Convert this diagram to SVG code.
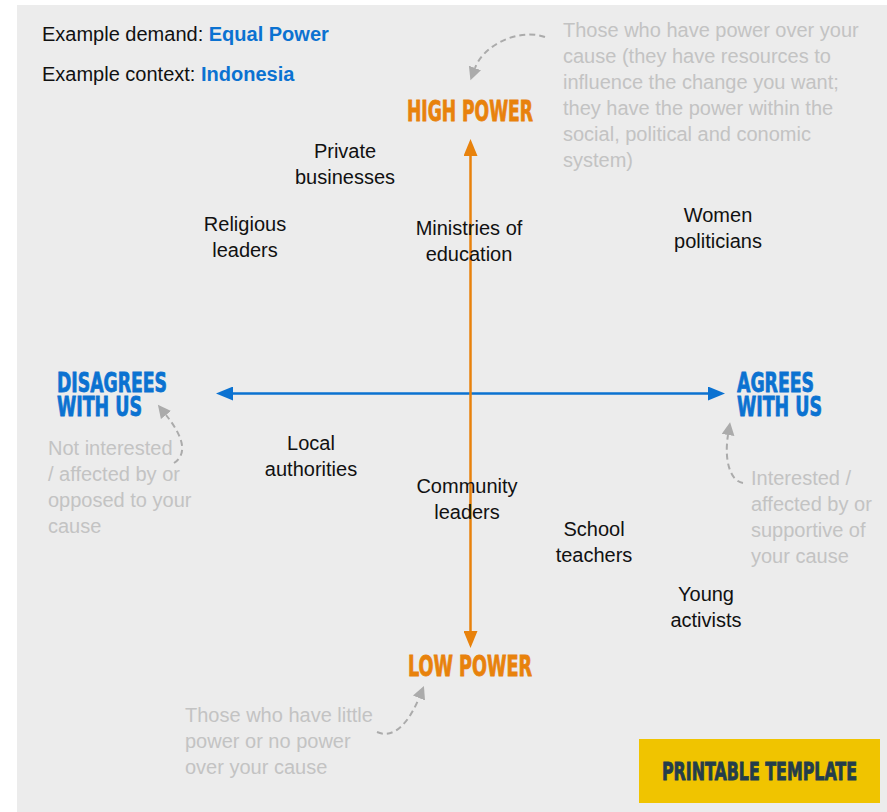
<svg xmlns="http://www.w3.org/2000/svg" width="887" height="812" viewBox="0 0 887 812">
<defs>
<style>
.t{font-family:"Liberation Sans",Arial,sans-serif;font-size:20px;fill:#111}
.c{text-anchor:middle}
.b{font-weight:bold;fill:#0b72d1}
.n{font-family:"Liberation Sans",Arial,sans-serif;font-size:20px;fill:#c3c3c3}
.h{font-family:"DejaVu Sans Condensed","DejaVu Sans",sans-serif;font-weight:bold;stroke-width:0.8}
.blue{fill:#0b72d1;stroke:#0b72d1}
.orange{fill:#e8820c;stroke:#e8820c}
.dark{fill:#243d4b;stroke:#243d4b}
.dash{fill:none;stroke:#ababab;stroke-width:2;stroke-dasharray:6 4}
</style>
<marker id="ao" markerUnits="userSpaceOnUse" markerWidth="18" markerHeight="14" refX="0" refY="7" orient="auto-start-reverse"><path d="M0,0 L17,7 L0,14 Z" fill="#e8820c"/></marker>
<marker id="ab" markerUnits="userSpaceOnUse" markerWidth="18" markerHeight="14" refX="0" refY="7" orient="auto-start-reverse"><path d="M0,0 L17,7 L0,14 Z" fill="#0b72d1"/></marker>
<marker id="ag" markerUnits="userSpaceOnUse" markerWidth="14" markerHeight="14" refX="0" refY="6.5" orient="auto"><path d="M0,0 L13,6.5 L0,13 Z" fill="#ababab"/></marker>
</defs>
<rect x="17" y="5" width="870" height="807" fill="#ececec"/>

<g id="connectors">
<line x1="233" y1="393.5" x2="708" y2="393.5" stroke="#0b72d1" stroke-width="2.5" marker-start="url(#ab)" marker-end="url(#ab)"/>
<line x1="470.5" y1="156" x2="470.5" y2="631" stroke="#e8820c" stroke-width="2.5" marker-start="url(#ao)" marker-end="url(#ao)"/>
<path class="dash" d="M545,37 C520,28 484,44 475,68" marker-end="url(#ag)"/>
<path class="dash" d="M174,463 C186,455 186,440 166,415" marker-end="url(#ag)"/>
<path class="dash" d="M743,483 C730,481 724,460 728,435" marker-end="url(#ag)"/>
<path class="dash" d="M377,732 C395,740 410,720 419,698" marker-end="url(#ag)"/>
</g>

<g id="header">
<text class="t" x="42" y="41">Example demand: <tspan class="b">Equal Power</tspan></text>
<text class="t" x="42" y="81">Example context: <tspan class="b">Indonesia</tspan></text>
</g>

<g id="high-power">
<text class="h orange" x="407" y="121" font-size="27.5" textLength="126" lengthAdjust="spacingAndGlyphs">HIGH POWER</text>
</g>
<g id="low-power">
<text class="h orange" x="408" y="676" font-size="27.5" textLength="124" lengthAdjust="spacingAndGlyphs">LOW POWER</text>
</g>
<g id="disagrees">
<text class="h blue" x="57" y="392" font-size="27" textLength="110" lengthAdjust="spacingAndGlyphs">DISAGREES</text>
<text class="h blue" x="57" y="416" font-size="27" textLength="85" lengthAdjust="spacingAndGlyphs">WITH US</text>
</g>
<g id="agrees">
<text class="h blue" x="737" y="392" font-size="27" textLength="77" lengthAdjust="spacingAndGlyphs">AGREES</text>
<text class="h blue" x="737" y="416" font-size="27" textLength="85" lengthAdjust="spacingAndGlyphs">WITH US</text>
</g>

<g id="note-high">
<text class="n" x="563" y="37">Those who have power over your</text>
<text class="n" x="563" y="63">cause (they have resources to</text>
<text class="n" x="563" y="89">influence the change you want;</text>
<text class="n" x="563" y="115">they have the power within the</text>
<text class="n" x="563" y="141">social, political and conomic</text>
<text class="n" x="563" y="167">system)</text>
</g>
<g id="note-disagree">
<text class="n" x="48" y="455">Not interested</text>
<text class="n" x="48" y="481">/ affected by or</text>
<text class="n" x="48" y="507">opposed to your</text>
<text class="n" x="48" y="533">cause</text>
</g>
<g id="note-agree">
<text class="n" x="751" y="485">Interested /</text>
<text class="n" x="751" y="511">affected by or</text>
<text class="n" x="751" y="537">supportive of</text>
<text class="n" x="751" y="563">your cause</text>
</g>
<g id="note-low">
<text class="n" x="185" y="722">Those who have little</text>
<text class="n" x="185" y="748">power or no power</text>
<text class="n" x="185" y="774">over your cause</text>
</g>

<g id="private-businesses"><text class="t c" x="345" y="158">Private</text><text class="t c" x="345" y="184">businesses</text></g>
<g id="religious-leaders"><text class="t c" x="245" y="231">Religious</text><text class="t c" x="245" y="257">leaders</text></g>
<g id="ministries"><text class="t c" x="469" y="235">Ministries of</text><text class="t c" x="469" y="261">education</text></g>
<g id="women-politicians"><text class="t c" x="718" y="222">Women</text><text class="t c" x="718" y="248">politicians</text></g>
<g id="local-authorities"><text class="t c" x="311" y="450">Local</text><text class="t c" x="311" y="476">authorities</text></g>
<g id="community-leaders"><text class="t c" x="467" y="493">Community</text><text class="t c" x="467" y="519">leaders</text></g>
<g id="school-teachers"><text class="t c" x="594" y="536">School</text><text class="t c" x="594" y="562">teachers</text></g>
<g id="young-activists"><text class="t c" x="706" y="601">Young</text><text class="t c" x="706" y="627">activists</text></g>

<g id="printable-template">
<rect x="639" y="739" width="241" height="64" fill="#f0c400"/>
<text class="h dark" x="662" y="780" font-size="24" textLength="195" lengthAdjust="spacingAndGlyphs">PRINTABLE TEMPLATE</text>
</g>
</svg>
